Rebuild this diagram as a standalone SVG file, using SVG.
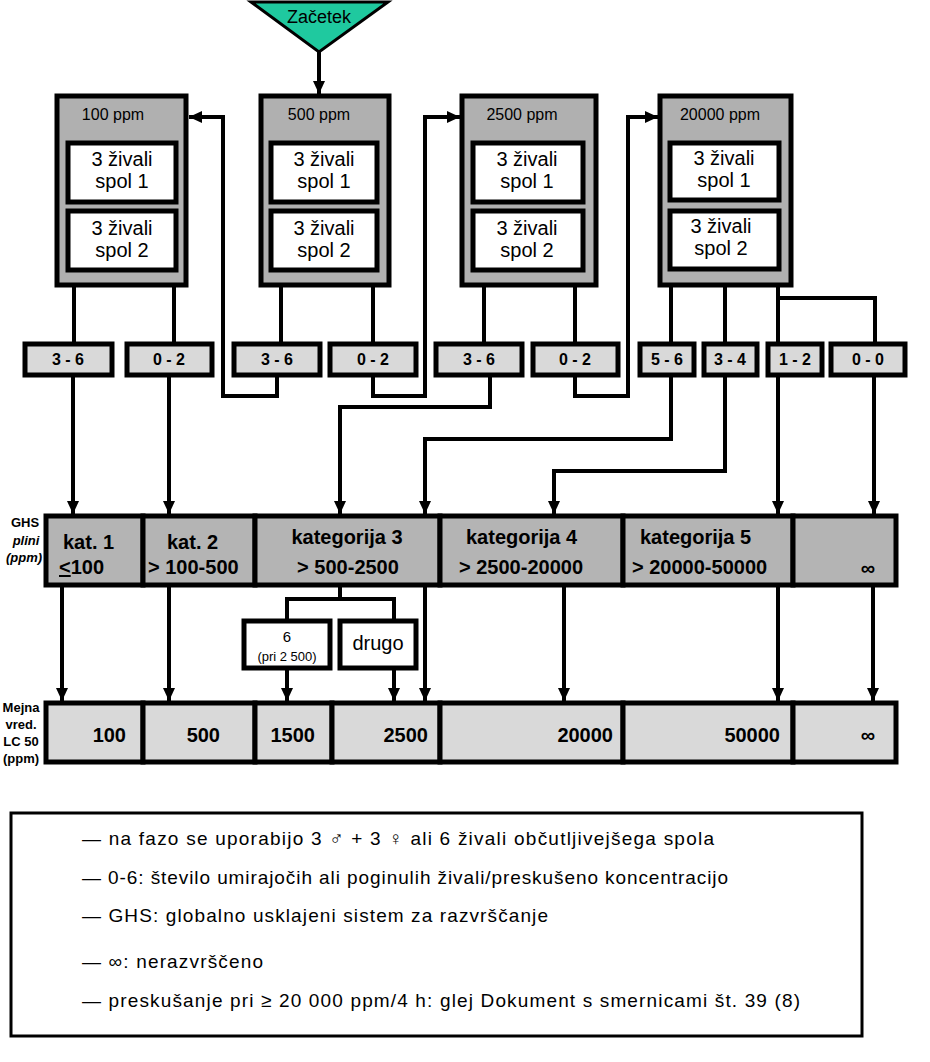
<svg xmlns="http://www.w3.org/2000/svg" width="930" height="1062" viewBox="0 0 930 1062">
<style>
text{font-family:"Liberation Sans",Arial,sans-serif;fill:#000}
.conc{fill:#b0b0b0;stroke:#000;stroke-width:5}
.inner{fill:#fff;stroke:#000;stroke-width:5}
.lbl{fill:#d9d9d9;stroke:#000;stroke-width:5}
.ghs{fill:#b4b4b4;stroke:#000;stroke-width:5}
.lc{fill:#d9d9d9;stroke:#000;stroke-width:5}
.wbox{fill:#fff;stroke:#000;stroke-width:5}
.t19{font-size:20px;text-anchor:middle}
.hdr{font-size:16px;text-anchor:middle}
.lt{font-size:16px;font-weight:bold;text-anchor:middle}
.ct{font-size:20px;font-weight:bold}
.side{font-size:13px;font-weight:bold;text-anchor:middle}
.num{font-size:20px;font-weight:bold;text-anchor:end}
.leg{font-size:19px}
.conn path{fill:none;stroke:#000;stroke-width:4;stroke-linejoin:miter}
</style>
<defs>
<marker id="ah" markerUnits="userSpaceOnUse" markerWidth="14" markerHeight="14" refX="13" refY="7" orient="auto" viewBox="0 0 14 14">
<path d="M0,1 L13,7 L0,13 z" fill="#000"/>
</marker>
</defs>

<g id="start">
<polygon points="251,2 388,2 319,52" fill="#1fc99f" stroke="#000" stroke-width="3"/>
<text x="319" y="23" style="font-size:18px" text-anchor="middle">Začetek</text>
</g>

<g id="box100">
<rect class="conc" x="57" y="96" width="129" height="189"/>
<text class="hdr" x="113" y="120">100 ppm</text>
<rect class="inner" x="68" y="143" width="108" height="59"/>
<text class="t19" x="122" y="166">3 živali</text>
<text class="t19" x="122" y="188">spol 1</text>
<rect class="inner" x="68" y="211" width="108" height="59"/>
<text class="t19" x="122" y="235">3 živali</text>
<text class="t19" x="122" y="257">spol 2</text>
</g>
<g id="box500">
<rect class="conc" x="261" y="96" width="128" height="189"/>
<text class="hdr" x="319" y="120">500 ppm</text>
<rect class="inner" x="271" y="143" width="106" height="59"/>
<text class="t19" x="324" y="166">3 živali</text>
<text class="t19" x="324" y="188">spol 1</text>
<rect class="inner" x="271" y="211" width="106" height="59"/>
<text class="t19" x="324" y="235">3 živali</text>
<text class="t19" x="324" y="257">spol 2</text>
</g>
<g id="box2500">
<rect class="conc" x="462" y="96" width="134" height="189"/>
<text class="hdr" x="522" y="120">2500 ppm</text>
<rect class="inner" x="473" y="143" width="110" height="59"/>
<text class="t19" x="527" y="166">3 živali</text>
<text class="t19" x="527" y="188">spol 1</text>
<rect class="inner" x="473" y="211" width="110" height="59"/>
<text class="t19" x="527" y="235">3 živali</text>
<text class="t19" x="527" y="257">spol 2</text>
</g>
<g id="box20000">
<rect class="conc" x="660" y="96" width="131" height="189"/>
<text class="hdr" x="720" y="120">20000 ppm</text>
<rect class="inner" x="670" y="143" width="109" height="57"/>
<text class="t19" x="724" y="165">3 živali</text>
<text class="t19" x="724" y="187">spol 1</text>
<rect class="inner" x="670" y="211" width="109" height="58"/>
<text class="t19" x="721" y="233">3 živali</text>
<text class="t19" x="721" y="255">spol 2</text>
</g>

<g id="l1"><rect class="lbl" x="25" y="344" width="87" height="31"/><text class="lt" x="68" y="365">3 - 6</text></g>
<g id="l2"><rect class="lbl" x="127" y="344" width="85" height="31"/><text class="lt" x="169" y="365">0 - 2</text></g>
<g id="l3"><rect class="lbl" x="234" y="344" width="86" height="31"/><text class="lt" x="277" y="365">3 - 6</text></g>
<g id="l4"><rect class="lbl" x="330" y="344" width="86" height="31"/><text class="lt" x="373" y="365">0 - 2</text></g>
<g id="l5"><rect class="lbl" x="436" y="344" width="86" height="31"/><text class="lt" x="479" y="365">3 - 6</text></g>
<g id="l6"><rect class="lbl" x="533" y="344" width="85" height="31"/><text class="lt" x="575" y="365">0 - 2</text></g>
<g id="l7"><rect class="lbl" x="640" y="344" width="54" height="31"/><text class="lt" x="667" y="365">5 - 6</text></g>
<g id="l8"><rect class="lbl" x="704" y="344" width="53" height="31"/><text class="lt" x="730" y="365">3 - 4</text></g>
<g id="l9"><rect class="lbl" x="768" y="344" width="54" height="31"/><text class="lt" x="795" y="365">1 - 2</text></g>
<g id="l10"><rect class="lbl" x="831" y="344" width="74" height="31"/><text class="lt" x="868" y="365">0 - 0</text></g>

<g id="ghs-label">
<text class="side" x="25" y="527">GHS</text>
<text class="side" x="26" y="545" font-style="italic">plini</text>
<text class="side" x="24" y="562" font-style="italic">(ppm)</text>
</g>
<g id="ghs-kat1"><rect class="ghs" x="46" y="516" width="97" height="69"/>
<text class="ct" x="63" y="549">kat. 1</text>
<text class="ct" x="59" y="574"><tspan text-decoration="underline">&lt;</tspan>100</text></g>
<g id="ghs-kat2"><rect class="ghs" x="143" y="516" width="112" height="69"/>
<text class="ct" x="167" y="549">kat. 2</text>
<text class="ct" x="148" y="574">&gt; 100-500</text></g>
<g id="ghs-kat3"><rect class="ghs" x="255" y="516" width="185" height="69"/>
<text class="ct" x="347" y="544" text-anchor="middle">kategorija 3</text>
<text class="ct" x="348" y="574" text-anchor="middle">&gt; 500-2500</text></g>
<g id="ghs-kat4"><rect class="ghs" x="440" y="516" width="183" height="69"/>
<text class="ct" x="466" y="544">kategorija 4</text>
<text class="ct" x="459" y="574">&gt; 2500-20000</text></g>
<g id="ghs-kat5"><rect class="ghs" x="623" y="516" width="170" height="69"/>
<text class="ct" x="640" y="544">kategorija 5</text>
<text class="ct" x="632" y="574">&gt; 20000-50000</text></g>
<g id="ghs-inf"><rect class="ghs" x="793" y="516" width="103" height="69"/>
<text class="ct" x="868" y="575" text-anchor="middle">∞</text></g>

<g id="b6"><rect class="wbox" x="244" y="621" width="86" height="47"/>
<text x="287" y="642" style="font-size:15px" text-anchor="middle">6</text>
<text x="287" y="661" style="font-size:13px" text-anchor="middle">(pri 2 500)</text></g>
<g id="bdrugo"><rect class="wbox" x="340" y="621" width="76" height="47"/>
<text x="378" y="650" style="font-size:20px" text-anchor="middle">drugo</text></g>

<g id="lc-label">
<text class="side" x="21" y="712">Mejna</text>
<text class="side" x="21" y="729">vred.</text>
<text class="side" x="21" y="746">LC 50</text>
<text class="side" x="21" y="763">(ppm)</text>
</g>
<g id="lc100"><rect class="lc" x="46" y="703" width="97" height="59"/><text class="num" x="126" y="742">100</text></g>
<g id="lc500"><rect class="lc" x="143" y="703" width="112" height="59"/><text class="num" x="220" y="742">500</text></g>
<g id="lc1500"><rect class="lc" x="255" y="703" width="77" height="59"/><text class="num" x="315" y="742">1500</text></g>
<g id="lc2500"><rect class="lc" x="332" y="703" width="108" height="59"/><text class="num" x="428" y="742">2500</text></g>
<g id="lc20000"><rect class="lc" x="440" y="703" width="183" height="59"/><text class="num" x="613" y="742">20000</text></g>
<g id="lc50000"><rect class="lc" x="623" y="703" width="170" height="59"/><text class="num" x="780" y="742">50000</text></g>
<g id="lcinf"><rect class="lc" x="793" y="703" width="103" height="59"/><text class="ct" x="868" y="742" text-anchor="middle">∞</text></g>

<g class="conn" id="connectors">
<path d="M319,52 L319,94" marker-end="url(#ah)"/>
<path d="M74,286 L74,342"/>
<path d="M174,286 L174,342"/>
<path d="M73,376 L73,514" marker-end="url(#ah)"/>
<path d="M169,376 L169,514" marker-end="url(#ah)"/>
<path d="M281,286 L281,342"/>
<path d="M373,286 L373,342"/>
<path d="M277,376 L277,396 L223,396 L223,117 L189,117" marker-end="url(#ah)"/>
<path d="M373,376 L373,396 L425,396 L425,117 L460,117" marker-end="url(#ah)"/>
<path d="M484,286 L484,342"/>
<path d="M575,286 L575,342"/>
<path d="M490,376 L490,407 L340,407 L340,514" marker-end="url(#ah)"/>
<path d="M575,376 L575,396 L628,396 L628,117 L658,117" marker-end="url(#ah)"/>
<path d="M671,286 L671,342"/>
<path d="M725,286 L725,342"/>
<path d="M778,286 L778,342"/>
<path d="M778,298 L875,298 L875,342"/>
<path d="M671,376 L671,439 L425,439 L425,514" marker-end="url(#ah)"/>
<path d="M725,376 L725,471 L554,471 L554,514" marker-end="url(#ah)"/>
<path d="M778,376 L778,514" marker-end="url(#ah)"/>
<path d="M874,376 L874,514" marker-end="url(#ah)"/>
<path d="M62,586 L62,701" marker-end="url(#ah)"/>
<path d="M169,586 L169,701" marker-end="url(#ah)"/>
<path d="M425,586 L425,701" marker-end="url(#ah)"/>
<path d="M564,586 L564,701" marker-end="url(#ah)"/>
<path d="M778,586 L778,701" marker-end="url(#ah)"/>
<path d="M873,586 L873,701" marker-end="url(#ah)"/>
<path d="M340,586 L340,599"/>
<path d="M287,620 L287,599 L394,599 L394,620"/>
<path d="M287,669 L287,701" marker-end="url(#ah)"/>
<path d="M394,669 L394,701" marker-end="url(#ah)"/>
</g>

<g id="legend">
<rect x="11" y="813" width="851" height="223" fill="#fff" stroke="#000" stroke-width="3"/>
<text class="leg" x="82" y="845" textLength="632" lengthAdjust="spacing">— na fazo se uporabijo 3 ♂ + 3 ♀ ali 6 živali občutljivejšega spola</text>
<text class="leg" x="82" y="884" textLength="646" lengthAdjust="spacing">— 0-6: število umirajočih ali poginulih živali/preskušeno koncentracijo</text>
<text class="leg" x="82" y="922" textLength="466" lengthAdjust="spacing">— GHS: globalno usklajeni sistem za razvrščanje</text>
<text class="leg" x="82" y="968" textLength="181" lengthAdjust="spacing">— ∞: nerazvrščeno</text>
<text class="leg" x="82" y="1007" textLength="718" lengthAdjust="spacing">— preskušanje pri ≥ 20 000 ppm/4 h: glej Dokument s smernicami št. 39 (8)</text>
</g>
</svg>
